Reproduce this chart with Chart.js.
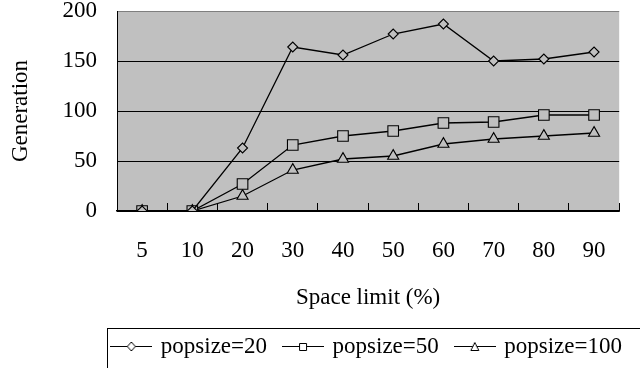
<!DOCTYPE html>
<html>
<head>
<meta charset="utf-8">
<script src="https://cdn.jsdelivr.net/npm/chart.js@4.4.1/dist/chart.umd.min.js"></script>
<style>
  html, body { margin: 0; padding: 0; background: #fff; overflow: hidden; }
  #wrap { width: 640px; height: 368px; }
</style>
</head>
<body>
<div id="wrap"><canvas id="chart" width="640" height="368"></canvas></div>
<script>
// Datos
const spaceLimits = ['5', '10', '20', '30', '40', '50', '60', '70', '80', '90'];
const pop20 = [0, 0, 63, 164, 156, 177, 187, 150, 152, 159];
const pop50 = [0, 0, 27, 66, 75, 80, 88, 89, 96, 96];
const pop100 = [0, 0, 15, 41, 52, 55, 67, 72, 75, 78];
const seriesNames = ['popsize=20', 'popsize=50', 'popsize=100'];
const yTicks = [0, 50, 100, 150, 200];

const FONT = "'Liberation Serif', 'Times New Roman', serif";
Chart.defaults.font.family = FONT;
Chart.defaults.color = '#000';

// Iconos de la leyenda: línea con marcador
function legendIcon(kind) {
    const c = document.createElement('canvas');
    c.width = 42; c.height = 17;
    const g = c.getContext('2d');
    g.strokeStyle = '#000';
    g.lineWidth = 1;
    g.beginPath(); g.moveTo(0, 8.5); g.lineTo(42, 8.5); g.stroke();
    g.fillStyle = '#fff';
    g.beginPath();
    if (kind === 'diamond') {
        g.moveTo(21, 4); g.lineTo(25, 8.5); g.lineTo(21, 13); g.lineTo(17, 8.5); g.closePath();
    } else if (kind === 'square') {
        g.rect(17.5, 5.5, 7, 7);
    } else {
        g.moveTo(21, 4.5); g.lineTo(25, 12.5); g.lineTo(17, 12.5); g.closePath();
    }
    g.fill(); g.stroke();
    return c;
}
const icons = [legendIcon('diamond'), legendIcon('square'), legendIcon('triangle')];

const plotBackground = {
    id: 'plotBackground',
    beforeDraw(chart) {
        const {ctx, chartArea: a} = chart;
        ctx.save();
        ctx.fillStyle = '#c0c0c0';
        ctx.fillRect(a.left, a.top, a.right - a.left, a.bottom - a.top);
        ctx.restore();
    }
};

const legendBox = {
    id: 'legendBox',
    afterDraw(chart) {
        const lg = chart.legend;
        const ctx = chart.ctx;
        const left = Math.round(lg.right - lg.lineWidths[0] - 6) + 0.5;
        const top = Math.round(lg.top + 11) + 0.5;
        ctx.save();
        ctx.strokeStyle = '#000';
        ctx.lineWidth = 1;
        ctx.strokeRect(left, top, chart.width + 10 - left, chart.height + 10 - top);
        ctx.restore();
    }
};

const ctx = document.getElementById('chart').getContext('2d');

const pointBase = {
    borderColor: '#000',
    borderWidth: 1.3,
    backgroundColor: '#c0c0c0',
    pointBackgroundColor: '#c0c0c0',
    pointBorderColor: '#000',
    pointBorderWidth: 1.1,
    tension: 0,
    fill: false
};

new Chart(ctx, {
    type: 'line',
    data: {
        labels: spaceLimits,
        datasets: [
            Object.assign({label: seriesNames[0], data: pop20, pointStyle: 'rectRot', pointRadius: 5}, pointBase),
            Object.assign({label: seriesNames[1], data: pop50, pointStyle: 'rect', pointRadius: 7.5}, pointBase),
            Object.assign({label: seriesNames[2], data: pop100, pointStyle: 'triangle', pointRadius: 6.4}, pointBase)
        ]
    },
    options: {
        responsive: false,
        animation: false,
        layout: { padding: { top: 11, left: 0, right: 0, bottom: 0 } },
        plugins: {
            tooltip: { enabled: false },
            legend: {
                position: 'bottom',
                align: 'end',
                labels: {
                    usePointStyle: true,
                    pointStyleWidth: 36,
                    padding: 18,
                    color: '#000',
                    font: { size: 23, family: FONT },
                    generateLabels(chart) {
                        const items = Chart.defaults.plugins.legend.labels.generateLabels(chart);
                        items.forEach((it, i) => { it.pointStyle = icons[i]; });
                        return items;
                    }
                }
            }
        },
        scales: {
            x: {
                offset: true,
                grid: {
                    display: true,
                    offset: true,
                    drawOnChartArea: false,
                    drawTicks: true,
                    tickLength: -8,
                    color: '#000'
                },
                border: { display: true, color: '#000', width: 1.5 },
                ticks: { padding: 34, font: { size: 23 }, color: '#000', maxRotation: 0, autoSkip: false },
                title: {
                    display: true,
                    text: 'Space limit (%)',
                    font: { size: 23 },
                    color: '#000',
                    padding: { top: 0, bottom: 5 }
                },
                afterFit(scale) { scale.height = 106; }
            },
            y: {
                min: 0,
                max: 200,
                afterBuildTicks(scale) { scale.ticks = yTicks.map(v => ({value: v})); },
                grid: {
                    drawTicks: false,
                    color: c => (c.tick && c.tick.value === 200) ? '#7f7f7f' : '#000'
                },
                border: { display: true, color: '#000', width: 1 },
                ticks: { padding: 20, font: { size: 23, lineHeight: 1 }, color: '#000' },
                title: {
                    display: true,
                    text: 'Generation',
                    font: { size: 23 },
                    color: '#000',
                    padding: { top: 7, bottom: 0 }
                },
                afterFit(scale) {
                    scale.width = 117;
                    scale.paddingTop = 0;
                    scale.paddingBottom = 0;
                }
            }
        }
    },
    plugins: [plotBackground, legendBox]
});
</script>
</body>
</html>
